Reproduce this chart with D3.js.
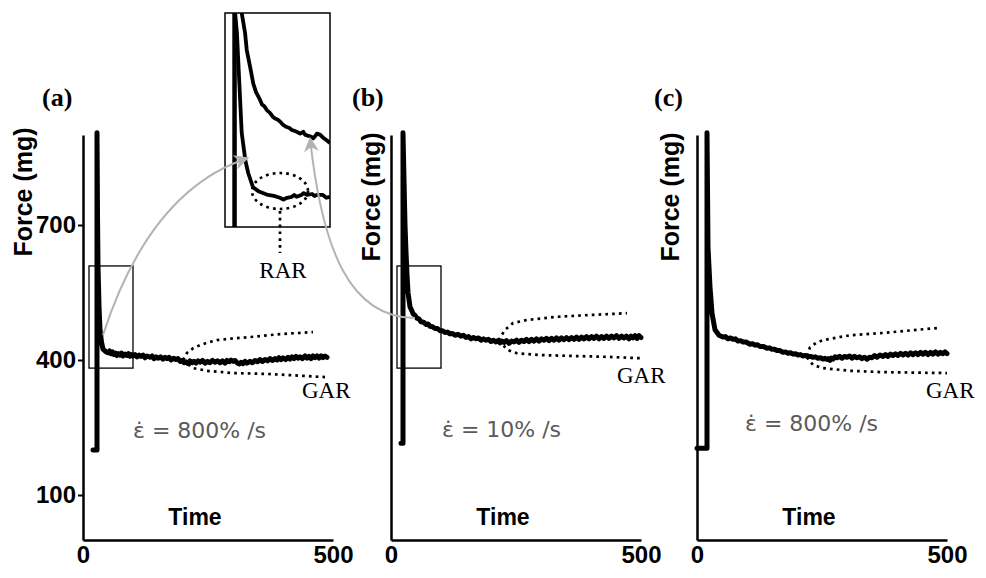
<!DOCTYPE html>
<html><head><meta charset="utf-8">
<script src="https://cdn.jsdelivr.net/npm/d3@7/dist/d3.min.js"></script>
<style>html,body{margin:0;padding:0;background:#fff;} svg{display:block;}</style>
</head><body><svg id="chart" width="986" height="578"></svg>
<script>
// ---------- DATA ----------
const timeDomain = [0, 500];
const forceDomain = [0, 900];
const yTickValues = [100, 400, 700];
const xTickValues = [0, 500];
const panelLabels = ['(a)', '(b)', '(c)'];
const rateLabels = ['\u03B5\u0307 = 800% /s', '\u03B5\u0307 = 10% /s', '\u03B5\u0307 = 800% /s'];
const yTitle = 'Force (mg)';
const xTitle = 'Time';
const garLabel = 'GAR';
const rarLabel = 'RAR';

// force traces [time, force]
const traceA = [[20,200],[28,200],[28,905],[29,720],[30,610],[32,520],[34,467],[37,440],[40,424],[45,419],[50,416],[53,420],[56,414],[59,418],[62,412],[65,415],[68,410],[71,414],[74,411],[77,415],[80,409],[84,413],[88,410],[91,414],[94,408],[97,412],[100,409],[104,412],[108,407],[112,411],[116,408],[120,411],[124,405],[128,409],[134,406],[138,409],[142,403],[146,407],[150,404],[155,407],[160,402],[164,406],[168,403],[172,406],[176,400],[181,404],[186,401],[190,403],[194,397],[198,399],[202,394],[206,396],[210,392],[214,398],[218,394],[222,397],[226,393],[230,398],[234,395],[239,399],[244,393],[249,397],[254,394],[259,399],[264,395],[269,398],[274,394],[279,398],[284,393],[288,399],[292,396],[296,400],[300,397],[304,399],[308,394],[312,391],[316,395],[320,392],[324,397],[328,393],[334,397],[339,394],[344,399],[349,396],[354,401],[359,397],[364,401],[369,398],[374,403],[379,399],[384,403],[388,400],[392,405],[396,401],[400,405],[405,401],[410,406],[414,402],[418,407],[422,403],[426,408],[430,404],[434,407],[439,403],[444,409],[448,404],[452,408],[456,403],[460,409],[464,405],[468,409],[472,404],[476,409],[480,405],[484,409],[488,406]];
const traceB = [[20,215],[24,215],[24,905],[26,800],[28,700],[30,640],[32,590],[34,550],[38,518],[41,511],[44,503],[48,499],[52,493],[56,491],[60,485],[65,484],[70,479],[74,480],[78,475],[83,474],[88,470],[93,470],[98,465],[103,465],[108,461],[113,462],[118,458],[123,459],[128,455],[134,457],[140,453],[145,455],[150,450],[155,452],[160,447],[165,450],[170,447],[175,449],[180,444],[185,447],[190,444],[195,446],[200,441],[205,444],[210,440],[214,443],[218,438],[222,442],[226,439],[231,443],[236,437],[241,442],[246,440],[251,444],[256,439],[261,444],[266,441],[271,446],[276,441],[281,446],[286,442],[291,447],[296,442],[301,447],[306,444],[311,448],[316,443],[321,448],[326,444],[331,449],[336,444],[341,449],[346,445],[351,450],[356,445],[361,450],[366,446],[371,451],[376,446],[381,451],[386,447],[391,452],[396,447],[401,452],[406,448],[411,453],[416,447],[421,452],[426,448],[431,453],[436,448],[441,453],[446,449],[451,454],[456,448],[461,453],[466,449],[471,453],[476,447],[480,453],[484,449],[488,454],[492,448],[496,454],[500,450]];
const traceC = [[0,204],[20,204],[20,905],[22,651],[26,562],[30,504],[36,467],[44,455],[52,451],[57,452],[62,447],[67,449],[72,446],[77,447],[82,442],[87,443],[92,440],[98,440],[106,435],[111,436],[116,433],[121,434],[126,430],[133,430],[140,426],[145,427],[150,424],[155,424],[160,421],[166,421],[172,417],[177,418],[182,415],[187,416],[192,413],[197,414],[202,411],[207,412],[212,409],[217,410],[222,408],[227,408],[232,406],[237,407],[242,404],[247,405],[252,402],[256,404],[260,401],[263,403],[266,399],[269,404],[272,402],[276,407],[280,405],[285,408],[290,404],[295,408],[300,406],[305,409],[310,404],[315,408],[320,405],[325,407],[330,403],[335,406],[340,402],[345,406],[350,405],[355,410],[360,406],[366,411],[372,408],[377,412],[382,408],[387,413],[392,410],[397,414],[402,410],[407,415],[412,411],[417,415],[422,411],[427,416],[432,412],[437,416],[442,412],[447,417],[452,413],[457,417],[462,412],[467,417],[472,413],[477,418],[482,413],[487,417],[492,414],[496,418],[500,414]];

// GAR envelopes (dotted)
const garUpperA = [[200,400],[208,416],[220,426],[234,433],[250,439],[268,444],[300,448],[334,451],[370,455],[400,458],[430,460],[460,462]];
const garLowerA = [[200,400],[208,393],[220,382],[248,376],[300,371],[368,369],[420,366],[484,362]];
const garUpperB = [[215,444],[228,467],[244,482],[272,489],[332,496],[398,500],[472,504]];
const garLowerB = [[215,442],[224,433],[234,422],[252,415],[298,411],[364,409],[432,407],[498,404]];
const garUpperC = [[220,409],[226,428],[238,438],[252,444],[306,455],[372,460],[430,466],[480,471]];
const garLowerC = [[220,406],[232,389],[252,382],[306,376],[372,373],[500,371]];

// zoom box (time range, force range) and the magnified curves shown in the inset
const zoomBoxTime = [12, 100];
const zoomBoxForce = [382, 609];
const insetRise = [[20,382],[20,609]];
const insetCurveA = [[20.5,609],[22,588],[24,535],[26,482],[29,453],[31.5,439],[35.5,424],[40,420],[43.8,418],[48,416],[53,415],[58,413],[61,411],[64,413],[68,414],[70,416],[72,414],[76,416],[78,418],[80.7,416],[85,417],[87,415],[89,416],[94,416],[97,413],[100,414]];
const insetCurveB = [[26,609],[28.8,588],[30.2,570],[33,552],[35.7,534],[38,525],[41.3,517],[43,512],[45,510],[47,506],[49.7,503],[52,499],[54,497],[56,496],[58.1,494],[61,490],[63.7,488],[66,487],[68,485],[70,484],[72.1,483],[75,481],[77.6,483],[79,480],[81,479],[84,478],[86,476],[88,479],[89,481],[91.6,480],[94,477],[97.2,474],[100,471]];

// ---------- DRAW ----------
const svg = d3.select('#chart');
const yTop = 135, yBot = 540, xSpan = 250;
const y = d3.scaleLinear().domain(forceDomain).range([yBot, yTop]);

const defs = svg.append('defs');
defs.append('marker').attr('id','arr').attr('viewBox','0 0 12 12').attr('refX',11).attr('refY',6)
  .attr('markerWidth',15).attr('markerHeight',15).attr('markerUnits','userSpaceOnUse').attr('orient','auto')
  .append('path').attr('d','M0,0 L12,6 L0,12 L3.5,6 Z').attr('fill','#b3b3b3');

const panels = [
  {x0:83,  trace:traceA, up:garUpperA, low:garLowerA, box:true,  ticks:true,  lab:[42,106], title:[32,192], rate:[133,438], gar:[302,398]},
  {x0:391, trace:traceB, up:garUpperB, low:garLowerB, box:true,  ticks:false, lab:[352,106], title:[380,197], rate:[442,437], gar:[617,383]},
  {x0:697, trace:traceC, up:garUpperC, low:garLowerC, box:false, ticks:false, lab:[654,106], title:[679,197], rate:[745,431], gar:[926,398]}
];

panels.forEach((p, i) => {
  const x = d3.scaleLinear().domain(timeDomain).range([p.x0, p.x0 + xSpan]);
  const g = svg.append('g');
  const line = d3.line().x(d => x(d[0])).y(d => y(d[1]));

  // axes
  const ya = d3.axisLeft(y).tickValues(p.ticks ? yTickValues : []).tickSize(5).tickSizeOuter(0).tickPadding(2);
  const yg = g.append('g').attr('transform', `translate(${p.x0},0)`).call(ya);
  yg.select('.domain').attr('stroke','#000').attr('stroke-width',2.5);
  yg.selectAll('.tick line').attr('stroke','#000').attr('stroke-width',2);
  yg.selectAll('.tick text').attr('font-family','Liberation Sans, Arial, sans-serif').attr('font-weight','bold').attr('font-size',24).attr('fill','#000');

  const xa = d3.axisBottom(x).tickValues(xTickValues).tickSize(0).tickSizeOuter(0).tickPadding(6);
  const xg = g.append('g').attr('transform', `translate(0,${yBot})`).call(xa);
  xg.select('.domain').attr('stroke','#000').attr('stroke-width',2.5);
  xg.selectAll('.tick text').attr('font-family','Liberation Sans, Arial, sans-serif').attr('font-weight','bold').attr('font-size',24).attr('fill','#000');

  // zoom box
  if (p.box) {
    g.append('rect').attr('x', x(zoomBoxTime[0])).attr('y', y(zoomBoxForce[1]))
      .attr('width', x(zoomBoxTime[1]) - x(zoomBoxTime[0])).attr('height', y(zoomBoxForce[0]) - y(zoomBoxForce[1]))
      .attr('fill','none').attr('stroke','#000').attr('stroke-width',1.3);
  }

  // GAR dotted envelopes
  [p.up, p.low].forEach(d => g.append('path').attr('d', line(d)).attr('fill','none')
    .attr('stroke','#000').attr('stroke-width',2.7).attr('stroke-dasharray','2.7,4.1'));

  // trace
  g.append('path').attr('d', line(p.trace)).attr('fill','none').attr('stroke','#000')
    .attr('stroke-width',5).attr('stroke-linejoin','round').attr('stroke-linecap','round');

  // texts
  g.append('text').attr('x',p.lab[0]).attr('y',p.lab[1]).text(panelLabels[i])
    .attr('font-family','Liberation Serif, Times New Roman, serif').attr('font-weight','bold').attr('font-size',26);
  g.append('text').attr('transform',`translate(${p.title[0]},${p.title[1]}) rotate(-90)`).attr('text-anchor','middle')
    .text(yTitle).attr('font-family','Liberation Sans, Arial, sans-serif').attr('font-weight','bold').attr('font-size',25);
  g.append('text').attr('x', p.x0 + 112).attr('y', 525).attr('text-anchor','middle').text(xTitle)
    .attr('font-family','Liberation Sans, Arial, sans-serif').attr('font-weight','bold').attr('font-size',23);
  g.append('text').attr('x',p.rate[0]).attr('y',p.rate[1]).text(rateLabels[i])
    .attr('font-family','DejaVu Sans, sans-serif').attr('font-size',22).attr('fill','#5a5a5a');
  g.append('text').attr('x',p.gar[0]).attr('y',p.gar[1]).text(garLabel)
    .attr('font-family','Liberation Serif, Times New Roman, serif').attr('font-size',23);
});

// ---------- INSET ----------
const ix = d3.scaleLinear().domain(zoomBoxTime).range([225, 330]);
const iy = d3.scaleLinear().domain(zoomBoxForce).range([227, 13]);
const ig = svg.append('g');
ig.append('clipPath').attr('id','insetClip').append('rect').attr('x',225).attr('y',13).attr('width',105).attr('height',214);
const il = d3.line().x(d => ix(d[0])).y(d => iy(d[1]));
const ic = ig.append('g').attr('clip-path','url(#insetClip)');
ic.append('path').attr('d', il(insetRise)).attr('stroke','#000').attr('stroke-width',4.5).attr('fill','none');
[insetCurveA, insetCurveB].forEach(d => ic.append('path').attr('d', il(d)).attr('fill','none')
  .attr('stroke','#000').attr('stroke-width',3.8).attr('stroke-linejoin','round'));
ig.append('rect').attr('x',225).attr('y',13).attr('width',105).attr('height',214)
  .attr('fill','none').attr('stroke','#000').attr('stroke-width',1.5);

// RAR annotation
ig.append('ellipse').attr('cx',280).attr('cy',191).attr('rx',28).attr('ry',18)
  .attr('fill','none').attr('stroke','#000').attr('stroke-width',2.7).attr('stroke-dasharray','2.7,4.1');
ig.append('line').attr('x1',280).attr('x2',280).attr('y1',211).attr('y2',253)
  .attr('stroke','#000').attr('stroke-width',2.7).attr('stroke-dasharray','2.7,4.1');
ig.append('text').attr('x',283).attr('y',278).attr('text-anchor','middle').text(rarLabel)
  .attr('font-family','Liberation Serif, Times New Roman, serif').attr('font-size',23);

// gray arrows from the zoom boxes to the inset
svg.append('path').attr('d','M103,335 Q150,190 248,158').attr('fill','none').attr('stroke','#b3b3b3')
  .attr('stroke-width',2).attr('marker-end','url(#arr)');
svg.append('path').attr('d','M415,318 C350,318 322,250 310,138').attr('fill','none').attr('stroke','#b3b3b3')
  .attr('stroke-width',2).attr('marker-end','url(#arr)');
</script></body></html>
